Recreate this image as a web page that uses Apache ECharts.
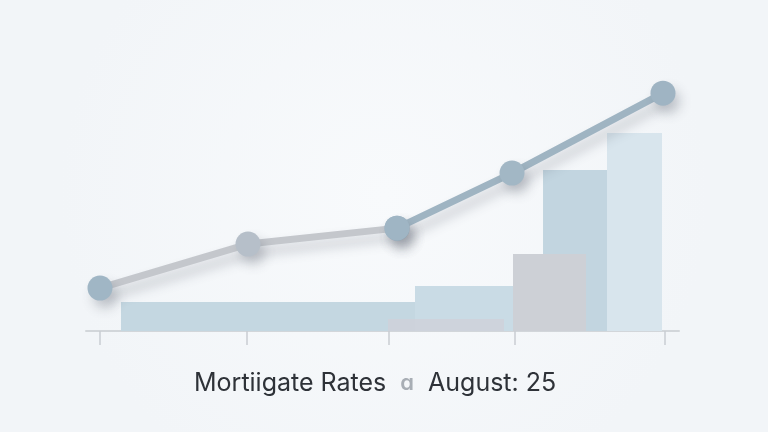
<!DOCTYPE html>
<html>
<head>
<meta charset="utf-8">
<script src="https://cdn.jsdelivr.net/npm/echarts@6/dist/echarts.min.js"></script>
<style>
html,body{margin:0;padding:0;background:#f5f8fa;}
#chart{width:768px;height:432px;}
</style>
</head>
<body>
<div id="chart"></div>
<script>
// Tick positions on the (unlabelled) horizontal axis
const tickPositions = [2.36, 27.15, 51.10, 72.34, 97.64];

// Line: first part (gray) and second part (blue-gray)
const lineX1 = [2.36, 27.32, 52.45];
const lineY1 = [1.59, 3.22, 3.81];
const lineX2 = [52.45, 71.84, 97.30];
const lineY2 = [3.81, 5.85, 8.81];

// Bars: start, end, value
const barStarts = [5.90, 55.48, 77.07, 87.86, 72.01, 50.93];
const barEnds   = [55.48, 72.01, 87.86, 97.13, 84.32, 70.49];
const barValues = [1.07, 1.67, 5.96, 7.33, 2.85, 0.44];

const titleLeft = 'Mortiigate Rates';
const titleIcon = 'ɑ';
const titleRight = 'August: 25';

const barColors = ['#c4d7e1', '#c9dbe5', '#c2d5e0', '#d8e5ed', '#cdd0d6', 'rgba(206,210,218,0.9)'];
const dotColors1 = ['#a0b6c5', '#b6bfc9', '#9fb5c4'];
const dotColors2 = ['#9fb5c4', '#a2b7c5', '#9fb4c3'];

const barData = barStarts.map((s, i) => [s, barEnds[i], barValues[i]]);
const line1 = lineX1.map((x, i) => [x, lineY1[i]]);
const line2 = lineX2.map((x, i) => [x, lineY2[i]]);

const chart = echarts.init(document.getElementById('chart'));
const shadow = {shadowBlur: 12, shadowColor: 'rgba(60,70,85,0.26)', shadowOffsetX: 5, shadowOffsetY: 8};

chart.setOption({
  animation: false,
  backgroundColor: 'transparent',
  graphic: [{
    type: 'rect', z: -10, silent: true,
    shape: {x: 0, y: 0, width: 768, height: 432},
    style: {fill: {type: 'radial', x: 0.5, y: 0.45, r: 0.75,
      colorStops: [{offset: 0, color: '#f8fafc'}, {offset: 1, color: '#f2f5f8'}]}}
  }],
  title: {
    text: '{a|' + titleLeft + '}{b|' + titleIcon + '}{a|' + titleRight + '}',
    left: 189, top: 366,
    textStyle: {
      rich: {
        a: {fontFamily: 'Inter', fontSize: 25, color: '#2e3238', fontWeight: 400},
        b: {fontFamily: 'Inter', fontSize: 22, color: '#a8aeb5', padding: [0, 14, 0, 14], fontWeight: 600}
      }
    }
  },
  grid: {left: 86, right: 89, top: 61, bottom: 101},
  xAxis: {
    type: 'value', min: 0, max: 100,
    axisLine: {show: true, lineStyle: {color: '#d2d6da', width: 2}},
    axisTick: {show: true, customValues: tickPositions, length: 14, inside: false,
      lineStyle: {color: '#c9cdd2', width: 1.5}},
    axisLabel: {show: false},
    splitLine: {show: false}
  },
  yAxis: {type: 'value', min: 0, max: 10, show: false, splitLine: {show: false}},
  series: [
    {
      type: 'custom', z: 1,
      data: barData,
      encode: {x: [0, 1], y: 2},
      renderItem: function (params, api) {
        const p0 = api.coord([api.value(0), api.value(2)]);
        const p1 = api.coord([api.value(1), 0]);
        return {type: 'rect',
          shape: {x: p0[0], y: p0[1], width: p1[0] - p0[0], height: p1[1] - p0[1]},
          style: {fill: barColors[params.dataIndex]}};
      }
    },
    {
      type: 'line', z: 3, data: line1, symbol: 'circle', symbolSize: 25,
      lineStyle: Object.assign({color: '#c4c7cc', width: 7}, shadow),
      itemStyle: Object.assign({color: p => dotColors1[p.dataIndex]}, shadow)
    },
    {
      type: 'line', z: 4, data: line2, symbol: 'circle', symbolSize: 25,
      lineStyle: Object.assign({color: '#9fb4c2', width: 7}, shadow),
      itemStyle: Object.assign({color: p => dotColors2[p.dataIndex]}, shadow)
    }
  ]
});
</script>
</body>
</html>
